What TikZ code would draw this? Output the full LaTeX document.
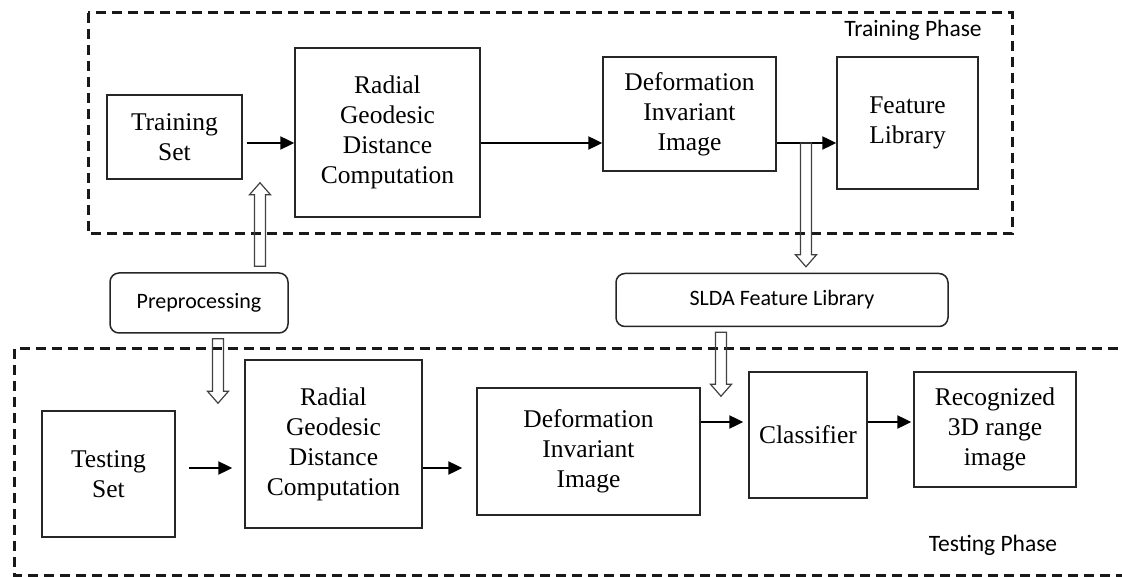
\documentclass[tikz,border=0pt]{standalone}
\usepackage{fontspec}
\setmainfont{Liberation Serif}
\newfontfamily\labelfont{Carlito}
\usetikzlibrary{arrows.meta,calc}

% draws a hollow block arrow (vertical) from #1 to #2
\newcommand\hollowarrow[2]{%
  \draw[hollow] let \p1=(#1), \p2=(#2), \n1={sign(\y2-\y1)} in
    ({\x1-5.5pt},\y1) -- ({\x1-5.5pt},{\y2-(\n1)*12pt}) -- ({\x1-10.5pt},{\y2-(\n1)*12pt})
    -- (\x1,\y2) -- ({\x1+10.5pt},{\y2-(\n1)*12pt}) -- ({\x1+5.5pt},{\y2-(\n1)*12pt})
    -- ({\x1+5.5pt},\y1) -- cycle;}

\begin{document}
\begin{tikzpicture}[x=1pt,y=-1pt,
  every node/.style={inner sep=0pt, align=center},
  stepbox/.style={draw=black!85, line width=1.5pt, font=\fontsize{25.5}{30}\selectfont},
  roundbox/.style={draw=black!85, line width=1.5pt, rounded corners=9pt,
    font=\labelfont\fontsize{22}{26}\selectfont},
  phasebox/.style={draw=black!90, line width=3pt, dash pattern=on 10pt off 6pt},
  phaselabel/.style={font=\labelfont\fontsize{23.5}{27}\selectfont},
  flow/.style={line width=2.4pt, -{Triangle[length=14pt,width=13pt]}},
  hollow/.style={draw=black!75, line width=1.2pt, line join=miter}
]
\useasboundingbox (0,0) rectangle (1122,577);
\clip (0,0) rectangle (1122,577);

% phase frames
\draw[phasebox] (88,13) rectangle (1012,234);
\draw[phasebox] (14,349) rectangle (1140,575);
\node[phaselabel] (trainlbl) at (913,30) {Training Phase};
\node[phaselabel] (testlbl) at (993,545) {Testing Phase};

% training phase
\node[stepbox, minimum width=135, minimum height=84] (trset) at (174.5,137) {Training\\Set};
\node[stepbox, minimum width=185, minimum height=169] (rgd1) at (387.5,132.5) {Radial\\Geodesic\\Distance\\Computation};
\node[stepbox, minimum width=173, minimum height=114] (dii1) at (689.5,114) {Deformation\\Invariant\\Image};
\node[stepbox, minimum width=141, minimum height=132] (flib) at (907.5,123) {Feature\\Library};

% intermediate blocks
\node[roundbox, minimum width=178, minimum height=60] (pp) at (199,303) {Preprocessing};
\node[roundbox, minimum width=332, minimum height=53] (slda) at (782,300) {SLDA Feature Library};

% testing phase
\node[stepbox, minimum width=133, minimum height=126] (tsset) at (108.5,474) {Testing\\Set};
\node[stepbox, minimum width=177, minimum height=168] (rgd2) at (333.5,444) {Radial\\Geodesic\\Distance\\Computation};
\node[stepbox, minimum width=223, minimum height=127] (dii2) at (588.5,451.5) {Deformation\\Invariant\\Image};
\node[stepbox, minimum width=118, minimum height=126] (clf) at (808,435) {Classifier};
\node[stepbox, minimum width=162, minimum height=115] (rec) at (995,429.5) {Recognized\\3D range\\image};

% connector levels and columns
\coordinate (ty) at (0,143);
\coordinate (by) at (0,468);
\coordinate (cy) at (0,422);
\coordinate (pux) at (260,0);
\coordinate (pdx) at (218,0);
\coordinate (sdx) at (721,0);
\coordinate (split) at (806,143);

% training flow
\draw[flow] ($(trset.east |- ty)+(4,0)$) -- (rgd1.west |- ty);
\draw[flow] (rgd1.east |- ty) -- (dii1.west |- ty);
\draw[flow] (dii1.east |- ty) -- (flib.west |- ty);

% testing flow
\draw[flow] ($(tsset.east |- by)+(13,0)$) -- ($(rgd2.west |- by)+(-12,0)$);
\draw[flow] (rgd2.east |- by) -- ($(dii2.west |- by)+(-14,0)$);
\draw[flow] (dii2.east |- cy) -- ($(clf.west |- cy)+(-5,0)$);
\draw[flow] (clf.east |- cy) -- ($(rec.west |- cy)+(-2,0)$);

% hollow block arrows
\coordinate (ppA) at ($(pp.north -| pux)+(0,-6)$);
\coordinate (ppB) at ($(trset.south -| pux)+(0,3)$);
\coordinate (ppC) at ($(pp.south -| pdx)+(0,5)$);
\coordinate (ppD) at ($(tsset.north -| pdx)+(0,-7)$);
\coordinate (slA) at ($(slda.north -| split)+(0,-6)$);
\coordinate (slB) at ($(slda.south -| sdx)+(0,5)$);
\coordinate (slC) at ($(dii2.north -| sdx)+(0,9)$);
\hollowarrow{ppA}{ppB}
\hollowarrow{ppC}{ppD}
\hollowarrow{split}{slA}
\hollowarrow{slB}{slC}
\end{tikzpicture}
\end{document}
